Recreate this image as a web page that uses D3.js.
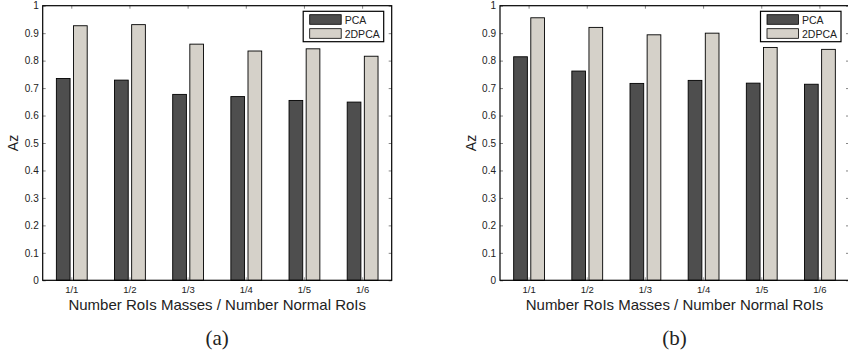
<!DOCTYPE html>
<html>
<head>
<meta charset="utf-8">
<script src="https://cdn.jsdelivr.net/npm/d3@7"></script>
<style>
  body { margin: 0; background: #fff; }
  svg { display: block; font-family: "Liberation Sans", Arial, sans-serif; }
</style>
</head>
<body>
<div class="canva"></div>
<script>
const categories = ["1/1", "1/2", "1/3", "1/4", "1/5", "1/6"];
const seriesNames = ["PCA", "2DPCA"];
const pcaA = [0.735, 0.729, 0.677, 0.669, 0.655, 0.649];
const dpcaA = [0.927, 0.931, 0.860, 0.835, 0.843, 0.816];
const pcaB = [0.814, 0.762, 0.717, 0.728, 0.718, 0.714];
const dpcaB = [0.956, 0.921, 0.894, 0.900, 0.848, 0.841];
const yTicks = [0, 0.1, 0.2, 0.3, 0.4, 0.5, 0.6, 0.7, 0.8, 0.9, 1];
const colors = { "PCA": "#4e4e4e", "2DPCA": "#d5d1c9" };

const svg = d3.select(".canva").append("svg")
    .attr("width", 848)
    .attr("height", 356);

const graphWidth = 349;
const graphHeight = 274.6;

function drawPanel(left, pca, dpca, caption) {
    const top = 5.7;
    const graph = svg.append("g")
        .attr("transform", `translate(${left}, ${top})`);

    const rows = categories.map((c, i) => ({ cat: c, PCA: pca[i], "2DPCA": dpca[i] }));

    const x0 = d3.scaleBand()
        .domain(categories)
        .range([0, graphWidth])
        .paddingInner(0.47)
        .paddingOuter(0.235);

    const x1 = d3.scaleBand()
        .domain(seriesNames)
        .range([0, x0.bandwidth()])
        .paddingInner(0.2);

    const y = d3.scaleLinear()
        .domain([0, 1])
        .range([graphHeight, 0]);

    // bars
    rows.forEach(row => {
        graph.append("g")
            .attr("transform", `translate(${x0(row.cat)}, 0)`)
            .selectAll("rect")
            .data(seriesNames)
            .enter()
            .append("rect")
            .attr("x", s => x1(s))
            .attr("y", s => y(row[s]))
            .attr("width", x1.bandwidth())
            .attr("height", s => graphHeight - y(row[s]))
            .attr("fill", s => colors[s])
            .attr("stroke", "#000")
            .attr("stroke-width", 0.9);
    });

    // axes (matlab style: inward ticks)
    const yAxis = d3.axisLeft(y).tickValues(yTicks).tickSize(-3).tickPadding(4)
        .tickFormat(d => d3.format("~g")(d));
    const yAxisGroup = graph.append("g").call(yAxis);
    yAxisGroup.select(".domain").remove();
    yAxisGroup.selectAll("text").style("font-size", "10px").attr("fill", "#222");
    yAxisGroup.selectAll("line").attr("stroke", "#333").attr("stroke-width", 0.6);

    const yRight = d3.axisRight(y).tickValues(yTicks).tickSize(-3).tickFormat("");
    const yRightGroup = graph.append("g")
        .attr("transform", `translate(${graphWidth}, 0)`)
        .call(yRight);
    yRightGroup.select(".domain").remove();
    yRightGroup.selectAll("line").attr("stroke", "#333").attr("stroke-width", 0.6);

    const xAxis = d3.axisBottom(x0).tickSize(-3).tickPadding(6);
    const xAxisGroup = graph.append("g")
        .attr("transform", `translate(0, ${graphHeight})`)
        .call(xAxis);
    xAxisGroup.select(".domain").remove();
    xAxisGroup.selectAll("text").style("font-size", "9.5px").attr("fill", "#222");
    xAxisGroup.selectAll("line").attr("stroke", "#666").attr("stroke-width", 0.6);

    const xTop = d3.axisTop(x0).tickSize(-3).tickFormat("");
    const xTopGroup = graph.append("g").call(xTop);
    xTopGroup.select(".domain").remove();
    xTopGroup.selectAll("line").attr("stroke", "#333").attr("stroke-width", 0.6);

    // box
    graph.append("rect")
        .attr("width", graphWidth)
        .attr("height", graphHeight)
        .attr("fill", "none")
        .attr("stroke", "#000")
        .attr("stroke-width", 1.2);

    // labels
    graph.append("text")
        .attr("x", -graphHeight / 2)
        .attr("y", -24.5)
        .attr("text-anchor", "middle")
        .attr("transform", "rotate(-90)")
        .attr("fill", "#222")
        .style("font-size", "14px")
        .text("Az");

    graph.append("text")
        .attr("x", graphWidth / 2)
        .attr("y", graphHeight + 29.5)
        .attr("text-anchor", "middle")
        .attr("fill", "#222")
        .style("font-size", "15px")
        .text("Number RoIs Masses / Number Normal RoIs");

    graph.append("text")
        .attr("x", graphWidth / 2)
        .attr("y", graphHeight + 64.5)
        .attr("text-anchor", "middle")
        .attr("fill", "#222")
        .style("font-family", "'Liberation Serif', 'DejaVu Serif', serif")
        .style("font-size", "21px")
        .text(caption);

    // legend
    const legendW = 80.5;
    const legend = graph.append("g")
        .attr("transform", `translate(${graphWidth - 8 - legendW}, 5.6)`);
    legend.append("rect")
        .attr("width", legendW)
        .attr("height", 30.4)
        .attr("fill", "#fff")
        .attr("stroke", "#000")
        .attr("stroke-width", 1.2);
    seriesNames.forEach((s, i) => {
        const row = legend.append("g")
            .attr("transform", `translate(6.5, ${3.4 + i * 14})`);
        row.append("rect")
            .attr("width", 31.5)
            .attr("height", 9.6)
            .attr("fill", colors[s])
            .attr("stroke", "#000")
            .attr("stroke-width", 0.8);
        row.append("text")
            .attr("x", 35)
            .attr("y", 8.8)
            .attr("fill", "#222")
            .style("font-size", "10.5px")
            .text(s);
    });
}

drawPanel(42.7, pcaA, dpcaA, "(a)");
drawPanel(500, pcaB, dpcaB, "(b)");
</script>
</body>
</html>
